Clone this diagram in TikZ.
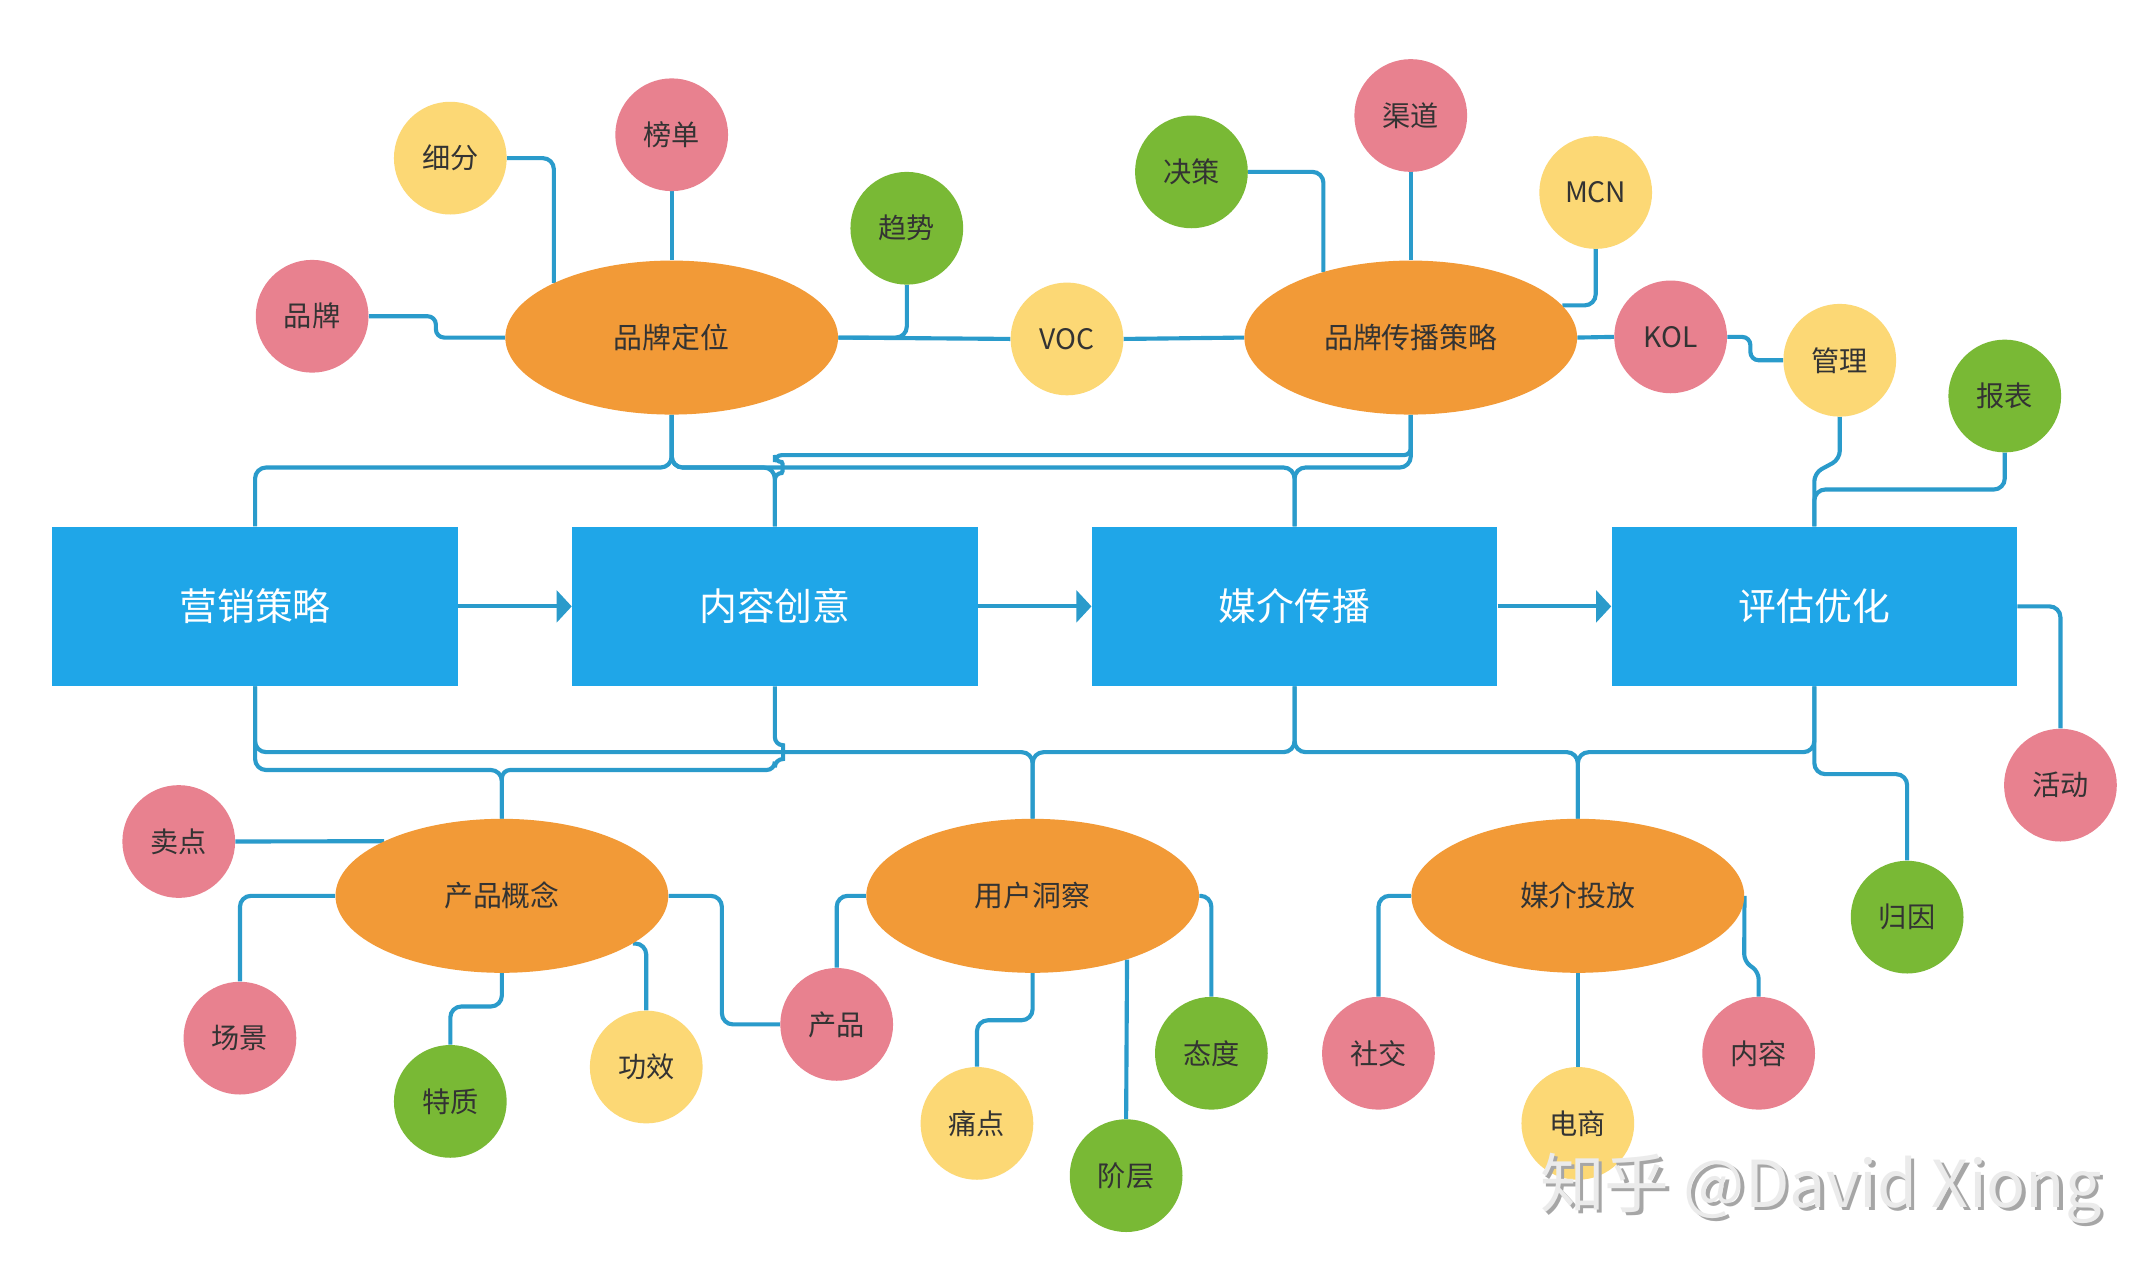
\documentclass[tikz,border=0pt]{standalone}
\usepackage{fontspec}
\setmainfont{Noto Sans CJK SC}
\usetikzlibrary{shapes.geometric,arrows.meta}
\definecolor{boxblue}{HTML}{1FA6E8}
\definecolor{linkblue}{HTML}{2A9BCB}
\definecolor{topicorange}{HTML}{F29A37}
\definecolor{leafpink}{HTML}{E8818F}
\definecolor{leafyellow}{HTML}{FCD875}
\definecolor{leafgreen}{HTML}{79B935}
\definecolor{txt}{HTML}{333333}
\pgfdeclarelayer{paper}
\pgfdeclarelayer{bg}
\pgfsetlayers{paper,bg,main}
\begin{document}
\begin{tikzpicture}[x=1pt,y=-1pt,
  mainbox/.style={rectangle, fill=boxblue, minimum width=295pt, minimum height=116pt, inner sep=0pt, text=white, font=\fontsize{27.5pt}{30pt}\selectfont},
  topic/.style={ellipse, fill=topicorange, minimum width=242pt, minimum height=112pt, inner sep=0pt, text=txt, font=\fontsize{21pt}{24pt}\selectfont},
  leaf/.style={circle, minimum size=82pt, inner sep=0pt, text=txt, font=\fontsize{20.5pt}{23pt}\selectfont},
  pinkleaf/.style={leaf, fill=leafpink},
  yellowleaf/.style={leaf, fill=leafyellow},
  greenleaf/.style={leaf, fill=leafgreen},
  link/.style={draw=linkblue, line width=3pt, rounded corners=8pt},
  flow/.style={draw=linkblue, line width=3pt, -{Triangle[length=11pt,width=23pt]}},
  wmark/.style={font=\fontsize{47pt}{50pt}\selectfont, anchor=base west, inner sep=0pt}
]
\begin{pgfonlayer}{paper}
\fill[white] (0,0) rectangle (1568,927);
\end{pgfonlayer}
\useasboundingbox (0,0) rectangle (1568,927);

% main process boxes
\node[mainbox] (yxcl) at (185.5,441) {营销策略};
\node[mainbox] (nrcy) at (563.5,441) {内容创意};
\node[mainbox] (mjcb) at (941.5,441) {媒介传播};
\node[mainbox] (pgyh) at (1319.5,441) {评估优化};

% topics
\node[topic] (ppdw) at (488.5,245.5) {品牌定位};
\node[topic] (ppcb) at (1026,245.5) {品牌传播策略};
\node[topic] (cpgn) at (365,651.5) {产品概念};
\node[topic] (yhdc) at (751,651.5) {用户洞察};
\node[topic] (mjtf) at (1147.5,651.5) {媒介投放};

% leaves
\node[yellowleaf] (xf) at (327.5,115) {细分};
\node[pinkleaf] (bd) at (488.5,98) {榜单};
\node[greenleaf] (qs) at (659.5,166) {趋势};
\node[pinkleaf] (pp) at (227,230) {品牌};
\node[yellowleaf] (voc) at (776,246.5) {VOC};
\node[greenleaf] (jc) at (866.5,125) {决策};
\node[pinkleaf] (qd) at (1026,84) {渠道};
\node[yellowleaf] (mcn) at (1160.5,140) {MCN};
\node[pinkleaf] (kol) at (1215,245) {KOL};
\node[yellowleaf] (gl) at (1338,262) {管理};
\node[greenleaf] (bb) at (1458,288) {报表};
\node[pinkleaf] (hd) at (1498.5,571) {活动};
\node[greenleaf] (gy) at (1387,667) {归因};
\node[pinkleaf] (md) at (130,612) {卖点};
\node[pinkleaf] (cj) at (174.5,755) {场景};
\node[greenleaf] (tz) at (327.5,801) {特质};
\node[yellowleaf] (gx) at (470,776) {功效};
\node[pinkleaf] (cp) at (608.5,745) {产品};
\node[yellowleaf] (tdian) at (710.5,817) {痛点};
\node[greenleaf] (jceng) at (819,855) {阶层};
\node[greenleaf] (taidu) at (881,766) {态度};
\node[pinkleaf] (sj) at (1002.5,766) {社交};
\node[yellowleaf] (ds) at (1147.5,817) {电商};
\node[pinkleaf] (nr) at (1279,766) {内容};

% watermark
\node[wmark, text=black!35] (wmshadow) at (1122.5,880.5) {知乎 @David Xiong};
\node[wmark, text=black!8] (wm) at (1120,878) {知乎 @David Xiong};

% flow arrows
\draw[flow] (yxcl.east) -- (nrcy.west);
\draw[flow] (nrcy.east) -- (mjcb.west);
\draw[flow] (mjcb.east) -- (pgyh.west);

\begin{pgfonlayer}{bg}
% brand positioning group
\draw[link, rounded corners=6pt] (pp.east) -- (317,230) -- (317,245.5) -- (ppdw.west);
\draw[link] (xf.east) -| (ppdw.north west);
\draw[link] (bd.south) -- (ppdw.north);
\draw[link] (qs.south) |- (ppdw.east);
\draw[link] (ppdw.east) -- (voc.west);
\draw[link] (voc.east) -- (ppcb.west);
% brand communication group
\draw[link] (jc.east) -| (ppcb.143.7);
\draw[link] (qd.south) -- (ppcb.north);
\draw[link] (mcn.south) |- (ppcb.12.7);
\draw[link] (ppcb.east) -- (kol.west);
\draw[link, rounded corners=6pt] (kol.east) -- (1273,245) |- (gl.west);
% evaluation group
\draw[link, rounded corners=6pt] (gl.south) -- (1338,334) -- (1319.5,344) -- (pgyh.north);
\draw[link] (bb.south) -- (1458,356) -- (1319.5,356) -- (pgyh.north);
\draw[link] (pgyh.east) -| (hd.north);
\draw[link] (pgyh.south) -- (1319.5,563) -| (gy.north);
% topics to boxes (top)
\draw[link] (ppdw.south) -- (488.5,340) -| (yxcl.north);
\draw[link] (ppdw.south) -- (488.5,340) -| (nrcy.north);
\draw[link] (ppdw.south) -- (488.5,340) -| (mjcb.north);
\draw[link] (ppcb.south) -- (1026,340) -| (mjcb.north);
\draw[link, rounded corners=5pt] (ppcb.south) -- (1026,331) -- (563.5,331) -- (563.5,336)
  .. controls (569.5,336) and (569.5,344) .. (563.5,344) -- (nrcy.north);
% boxes to topics (bottom)
\draw[link] (yxcl.south) -- (185.5,560) -| (cpgn.north);
\draw[link, rounded corners=6pt] (nrcy.south) -- (563.5,542) .. controls (569.5,542) and (569.5,552) .. (563.5,552)
  -- (563.5,560) -| (cpgn.north);
\draw[link] (yxcl.south) -- (185.5,547) -| (yhdc.north);
\draw[link] (mjcb.south) -- (941.5,547) -| (yhdc.north);
\draw[link] (mjcb.south) -- (941.5,547) -| (mjtf.north);
\draw[link] (pgyh.south) -- (1319.5,547) -| (mjtf.north);
% product concept
\draw[link] (md.east) -- (cpgn.north west);
\draw[link] (cpgn.west) -| (cj.north);
\draw[link] (cpgn.south) -- (365,732) -| (tz.north);
\draw[link] (cpgn.-20.4) -| (gx.north);
\draw[link] (cpgn.east) -- (525,651.5) |- (cp.west);
% user insight
\draw[link] (yhdc.west) -| (cp.north);
\draw[link] (yhdc.south) -- (751,742) -| (tdian.north);
\draw[link] (yhdc.-34.25) -- (jceng.north);
\draw[link] (yhdc.east) -| (taidu.north);
% media placement
\draw[link] (mjtf.west) -| (sj.north);
\draw[link] (mjtf.south) -- (ds.north);
\draw[link, rounded corners=5pt] (mjtf.east) -- (1268.5,699) -- (1279,707) -- (nr.north);
\end{pgfonlayer}
\end{tikzpicture}
\end{document}
